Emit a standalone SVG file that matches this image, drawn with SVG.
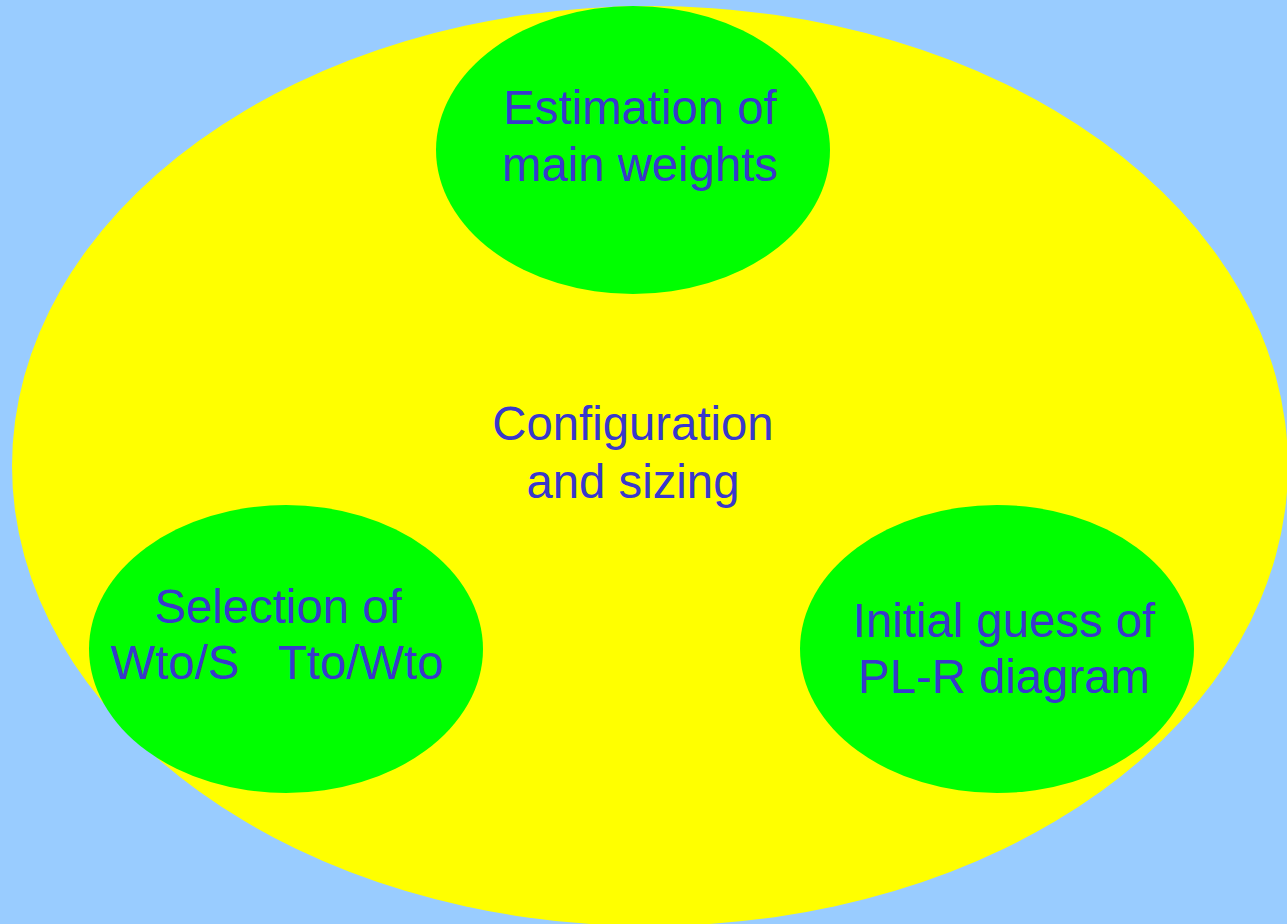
<svg xmlns="http://www.w3.org/2000/svg" width="1287" height="924" viewBox="0 0 1287 924">
<style>
.bg{fill:#99CCFF}
.outer{fill:#FFFF00}
.node{fill:#00FF00}
text{font-family:"Liberation Sans",Arial,sans-serif;font-size:47.3px;fill:#3838CC;text-anchor:middle;white-space:pre}
</style>
<rect class="bg" x="0" y="0" width="1287" height="924"/>
<g id="config">
<ellipse class="outer" cx="650" cy="466" rx="638" ry="460"/>
<text x="633" y="440">Configuration</text>
<text x="633" y="498">and sizing</text>
</g>
<g id="estimation">
<ellipse class="node" cx="633" cy="150" rx="197" ry="144"/>
<text x="640" y="124">Estimation of</text>
<text x="640" y="181">main weights</text>
</g>
<g id="selection">
<ellipse class="node" cx="286" cy="649" rx="197" ry="144"/>
<text x="278" y="623">Selection of</text>
<text x="277" y="679">Wto/S   Tto/Wto</text>
</g>
<g id="initial">
<ellipse class="node" cx="997" cy="649" rx="197" ry="144"/>
<text x="1004" y="637">Initial guess of</text>
<text x="1004" y="693">PL-R diagram</text>
</g>
<g id="connectors"></g>
</svg>
